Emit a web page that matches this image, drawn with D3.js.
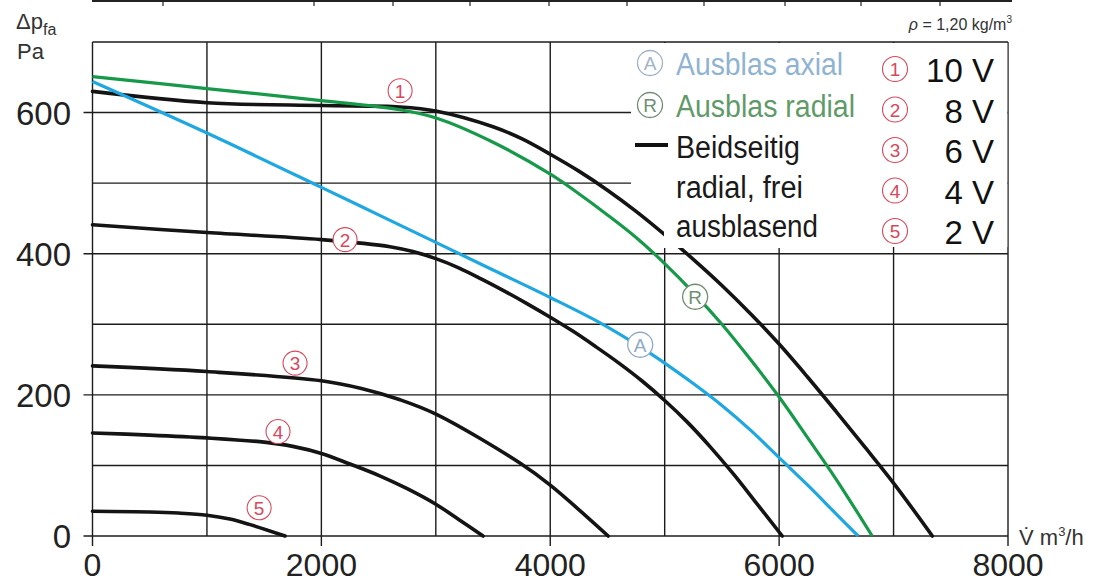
<!DOCTYPE html>
<html><head><meta charset="utf-8">
<script src="https://cdn.jsdelivr.net/npm/d3@7"></script>
<style>html,body{margin:0;padding:0;background:#fff;} svg{display:block;font-family:"Liberation Sans",Arial,sans-serif;}</style>
</head><body>
<svg id="c" width="1115" height="584"></svg>
<script>
// ---- data (flow V m3/h, pressure Pa) ----
const curve10V = [[0,630],[1000,614],[2000,610],[2688,608],[3009,602],[3500,580],[3750,563],[4000,541],[4250,517],[4500,490],[4750,460],[5000,427],[5250,392],[5500,355],[5750,315],[6000,272],[6250,225],[6500,176],[6750,126],[7000,75],[7339,0]];
const curve8V  = [[0,441],[1000,430],[2000,420],[2600,410],[2800,403],[3000,393],[3200,380],[3400,364],[3600,347],[3800,329],[4000,310],[4200,290],[4400,268],[4600,245],[4800,220],[5000,192],[5200,161],[5400,126],[5600,88],[5800,47],[6027,0]];
const curve6V  = [[0,241],[1000,233],[2000,220],[2350,209],[2688,193],[3010,172],[3738,103],[4000,72],[4506,0]];
const curve4V  = [[0,146],[500,143],[1000,139],[1500,133],[1750,127],[2000,117],[2250,102],[2500,86],[2750,67],[3000,45],[3200,23.5],[3413,0]];
const curve2V  = [[0,35],[500,34],[750,32.5],[1000,29.5],[1200,24],[1370,16.5],[1683,0]];
const curveRadial = [[0,651],[1000,634],[2000,617],[2688,604],[3010,592],[3500,558],[4008,512],[4250,485],[4500,455],[4750,423],[5000,386],[5250,345],[5500,300],[5750,250],[6000,197],[6250,139],[6500,80],[6813,0]];
const curveAxial  = [[0,644],[1000,571],[2000,494],[2500,455],[3000,416],[3500,377],[4000,338],[4436,302],[4786,268],[5000,245],[5250,216],[5500,185],[5750,150],[6000,111],[6250,72],[6500,31],[6691,0]];
const xTicks = [0,2000,4000,6000,8000];
const yTicks = [0,200,400,600];
const voltageLabels = ["10 V","8 V","6 V","4 V","2 V"];
const voltageNums = ["1","2","3","4","5"];
const seriesLabels = ["Ausblas axial","Ausblas radial"];
const blackLabel = ["Beidseitig","radial, frei","ausblasend"];
// marker positions on curves (data coords)
const numMarkers = [[2688,631,"1"],[2207,420,"2"],[1770,245,"3"],[1621,148,"4"],[1456,40,"5"]];
const letterMarkers = [[5266,339,"R"],[4786,271,"A"]];

const svg = d3.select("#c");
const x = d3.scaleLinear().domain([0,8000]).range([92.5,1008]);
const y = d3.scaleLinear().domain([0,700]).range([536,42]);
const gridColor = "#1c1c1c";

// top border remnant of previous figure
svg.append("line").attr("x1",92).attr("x2",1012).attr("y1",1).attr("y2",1).attr("stroke","#222").attr("stroke-width",2);
[163,314,393,470,549,627,704,785,861,940].forEach(t=>svg.append("line").attr("x1",t).attr("x2",t).attr("y1",1).attr("y2",6).attr("stroke","#222").attr("stroke-width",1.2));

// grid
const g = svg.append("g");
d3.range(0,8001,1000).forEach(v=>{
  g.append("line").attr("x1",x(v)).attr("x2",x(v)).attr("y1",y(700)).attr("y2",y(0)+(v%2000===0?10:0))
   .attr("stroke",gridColor).attr("stroke-width",1.4);
});
d3.range(0,701,100).forEach(v=>{
  g.append("line").attr("y1",y(v)).attr("y2",y(v)).attr("x1",x(0)-(v%200===0 && v<700?9:0)).attr("x2",x(8000))
   .attr("stroke",gridColor).attr("stroke-width",1.4);
});

// legend white box
svg.append("rect").attr("x",631).attr("y",y(700)+1).attr("width",x(8000)-631-0.7).attr("height",204).attr("fill","#fff");

// tick labels
svg.append("g").selectAll("text").data(xTicks).join("text")
  .attr("x",d=>x(d)).attr("y",576).attr("text-anchor","middle").attr("font-size",32).attr("fill","#222").text(d=>d);
svg.append("g").selectAll("text").data(yTicks).join("text")
  .attr("x",71).attr("y",d=>y(d)+12).attr("text-anchor","end").attr("font-size",33).attr("fill","#222").text(d=>d);

// curves
const line = d3.line().x(d=>x(d[0])).y(d=>y(d[1])).curve(d3.curveCatmullRom.alpha(0.5));
const blacks = [curve10V,curve8V,curve6V,curve4V,curve2V];
blacks.forEach(c=>svg.append("path").attr("d",line(c)).attr("fill","none").attr("stroke","#141414").attr("stroke-width",3.6).attr("stroke-linecap","round"));
svg.append("path").attr("d",line(curveRadial)).attr("fill","none").attr("stroke","#17994a").attr("stroke-width",3.2);
svg.append("path").attr("d",line(curveAxial)).attr("fill","none").attr("stroke","#1ea7e1").attr("stroke-width",3.2);

// white patch behind "ausblasend"
svg.append("rect").attr("x",664).attr("y",214).attr("width",165).attr("height",34).attr("fill","#fff");

// markers on curves
const red = "#d8485c";
numMarkers.forEach(m=>{
  svg.append("circle").attr("cx",x(m[0])).attr("cy",y(m[1])).attr("r",12).attr("fill","#fff").attr("stroke",red).attr("stroke-width",1.1);
  svg.append("text").attr("x",x(m[0])).attr("y",y(m[1])+7).attr("text-anchor","middle").attr("font-size",19).attr("fill",red).text(m[2]);
});
const letterCol = {R:"#6f8f74",A:"#8fa9c4"};
letterMarkers.forEach(m=>{
  svg.append("circle").attr("cx",x(m[0])).attr("cy",y(m[1])).attr("r",12.5).attr("fill","#fff").attr("stroke",letterCol[m[2]]).attr("stroke-width",1.3);
  svg.append("text").attr("x",x(m[0])).attr("y",y(m[1])+7).attr("text-anchor","middle").attr("font-size",19).attr("fill",letterCol[m[2]]).text(m[2]);
});

// legend left column
const legendCols = ["#8fb3d1","#5f9a68"];
const letterNames = ["A","R"];
const lgBase = [75,117];
const lgLens = [167,179];
seriesLabels.forEach((s,i)=>{
  svg.append("circle").attr("cx",650).attr("cy",lgBase[i]-12).attr("r",12.5).attr("fill","none").attr("stroke",i?"#6f8f74":"#9fb3c8").attr("stroke-width",1.3);
  svg.append("text").attr("x",650).attr("y",lgBase[i]-5).attr("text-anchor","middle").attr("font-size",19).attr("fill",i?"#6f8f74":"#9fb3c8").text(letterNames[i]);
  svg.append("text").attr("x",676).attr("y",lgBase[i]).attr("font-size",31).attr("fill",legendCols[i])
    .attr("textLength",lgLens[i]).attr("lengthAdjust","spacingAndGlyphs").text(s);
});
svg.append("line").attr("x1",635).attr("x2",668).attr("y1",145).attr("y2",145).attr("stroke","#111").attr("stroke-width",4);
const blBase=[158,198,237], blLens=[124,127,142];
blackLabel.forEach((s,i)=>svg.append("text").attr("x",676).attr("y",blBase[i]).attr("font-size",31).attr("fill","#1a1a1a")
  .attr("textLength",blLens[i]).attr("lengthAdjust","spacingAndGlyphs").text(s));

// legend right column
voltageLabels.forEach((s,i)=>{
  const cy = 69 + i*40.5;
  svg.append("circle").attr("cx",895).attr("cy",cy).attr("r",12.5).attr("fill","none").attr("stroke",red).attr("stroke-width",1.1);
  svg.append("text").attr("x",895).attr("y",cy+7).attr("text-anchor","middle").attr("font-size",19).attr("fill",red).text(voltageNums[i]);
  svg.append("text").attr("x",994).attr("y",cy+13).attr("text-anchor","end").attr("font-size",33).attr("fill","#111").text(s);
});

// axis titles
const yt = svg.append("text").attr("x",16).attr("y",29).attr("font-size",22).attr("fill","#333");
yt.append("tspan").text("\u0394p");
yt.append("tspan").attr("font-size",16).attr("dy",6).text("fa");
svg.append("text").attr("x",17).attr("y",59).attr("font-size",22).attr("fill","#333").text("Pa");
const xt = svg.append("text").attr("x",1019).attr("y",545).attr("font-size",22).attr("fill","#333");
xt.append("tspan").text("V\u0307 m");
xt.append("tspan").attr("font-size",13).attr("dy",-9).text("3");
xt.append("tspan").attr("dy",9).text("/h");
const rt = svg.append("text").attr("x",1012).attr("y",30).attr("text-anchor","end").attr("font-size",16).attr("fill","#333");
rt.append("tspan").attr("font-style","italic").text("\u03c1");
rt.append("tspan").text(" = 1,20 kg/m");
rt.append("tspan").attr("font-size",10).attr("dy",-7).text("3");
</script>
</body></html>
